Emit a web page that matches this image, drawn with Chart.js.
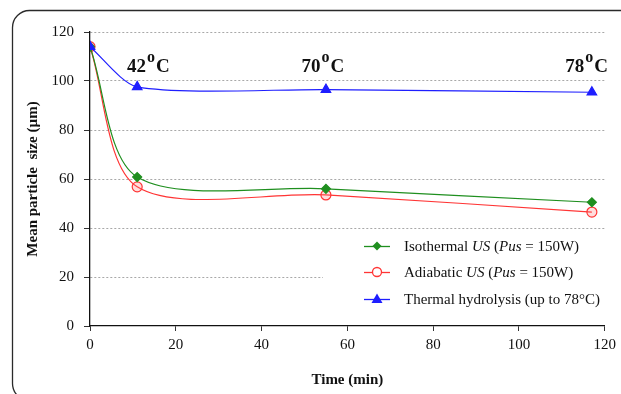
<!DOCTYPE html>
<html>
<head>
<meta charset="utf-8">
<script src="https://cdn.jsdelivr.net/npm/chart.js@4/dist/chart.umd.min.js"></script>
<style>
  html, body { margin: 0; padding: 0; background: #fff; }
  #wrap { position: relative; width: 621px; height: 394px; }
</style>
</head>
<body>
<div id="wrap"><canvas id="c" width="621" height="394"></canvas></div>
<script>
// ---- data ----
const timeMin = [0, 11, 55, 117];
const isothermal = [114, 60.8, 56, 50.5];
const adiabatic = [114, 56.8, 53.5, 46.5];
const thermal = [114, 97.6, 96.5, 95.4];
const xTicks = [0, 20, 40, 60, 80, 100, 120];
const yTicks = [0, 20, 40, 60, 80, 100, 120];
const tempLabels = ['42', '70', '78'];
const tempLabelX = [13.6, 54.3, 115.8];
const tempLabelY = 103.8;
const legendLabels = [
  [['Isothermal ', false], ['US', true], [' (', false], ['Pus', true], [' = 150W)', false]],
  [['Adiabatic ', false], ['US', true], [' (', false], ['Pus', true], [' = 150W)', false]],
  [['Thermal hydrolysis (up to 78°C)', false]]
];

const SERIF = '"Liberation Serif", "Times New Roman", serif';
const toXY = (ys) => timeMin.map((x, i) => ({ x: x, y: ys[i] }));

const colGreen = '#1f8f1f', colRed = '#ff3535', colBlue = '#1e1eff';

const frame = {
  id: 'frame',
  beforeDraw(chart) {
    const ctx = chart.ctx;
    ctx.save();
    ctx.fillStyle = '#fff';
    ctx.fillRect(0, 0, chart.width, chart.height);
    ctx.strokeStyle = '#2a2a2a';
    ctx.lineWidth = 1.3;
    const x = 12.5, y = 10.5, w = 640, h = 390, r = 17;
    ctx.beginPath();
    ctx.moveTo(x + r, y);
    ctx.lineTo(x + w, y);
    ctx.moveTo(x + r, y);
    ctx.arcTo(x, y, x, y + r, r);
    ctx.lineTo(x, y + h - r);
    ctx.arcTo(x, y + h, x + r, y + h, r);
    ctx.stroke();
    ctx.restore();
  }
};

const legendBg = {
  id: 'legendBg',
  beforeDatasetsDraw(chart) {
    const ctx = chart.ctx;
    ctx.save();
    ctx.fillStyle = '#fff';
    ctx.fillRect(323, 233, 285, 86);
    ctx.restore();
  },
  afterDatasetsDraw(chart) {
    const ctx = chart.ctx;
    const xs = chart.scales.x, ys = chart.scales.y;
    ctx.save();
    // temperature labels
    ctx.fillStyle = '#111';
    ctx.textBaseline = 'alphabetic';
    tempLabels.forEach((t, i) => {
      const big = 'bold 19px ' + SERIF, small = 'bold 16px ' + SERIF;
      ctx.font = big; const w1 = ctx.measureText(t).width;
      const wC = ctx.measureText('C').width;
      ctx.font = small; const wo = ctx.measureText('o').width;
      const total = w1 + wo + wC + 2;
      let cx = xs.getPixelForValue(tempLabelX[i]) - total / 2;
      const by = ys.getPixelForValue(tempLabelY);
      ctx.font = big; ctx.fillText(t, cx, by); cx += w1 + 1;
      ctx.font = small; ctx.fillText('o', cx, by - 10); cx += wo + 1;
      ctx.font = big; ctx.fillText('C', cx, by);
    });
    // legend
    const rows = [246, 272, 299];
    const ds = chart.data.datasets;
    const order = [1, 2, 0];
    rows.forEach((ry, r) => {
      const d = ds[order[r]];
      ctx.strokeStyle = d.borderColor; ctx.lineWidth = 1.3;
      ctx.beginPath(); ctx.moveTo(364, ry + 0.5); ctx.lineTo(390, ry + 0.5); ctx.stroke();
      const mx = 377;
      ctx.fillStyle = d.pointBackgroundColor; ctx.strokeStyle = d.borderColor;
      if (d.pointStyle === 'rectRot') {
        ctx.beginPath(); ctx.moveTo(mx, ry - 4.5); ctx.lineTo(mx + 4.5, ry); ctx.lineTo(mx, ry + 4.5); ctx.lineTo(mx - 4.5, ry); ctx.closePath(); ctx.fill();
      } else if (d.pointStyle === 'circle') {
        ctx.fillStyle = '#fff';
        ctx.beginPath(); ctx.arc(mx, ry, 4.5, 0, Math.PI * 2); ctx.fill(); ctx.stroke();
      } else {
        ctx.beginPath(); ctx.moveTo(mx, ry - 5.5); ctx.lineTo(mx + 5.5, ry + 4); ctx.lineTo(mx - 5.5, ry + 4); ctx.closePath(); ctx.fill();
      }
      ctx.fillStyle = '#111';
      ctx.textBaseline = 'middle';
      let tx = 404;
      legendLabels[r].forEach(([s, it]) => {
        ctx.font = (it ? 'italic ' : '') + '15px ' + SERIF;
        ctx.fillText(s, tx, ry + 1);
        tx += ctx.measureText(s).width;
      });
    });
    ctx.restore();
  }
};

new Chart(document.getElementById('c'), {
  type: 'line',
  data: {
    datasets: [
      {
        label: 'Thermal hydrolysis (up to 78°C)', data: toXY(thermal),
        borderColor: colBlue, backgroundColor: colBlue, pointBackgroundColor: colBlue,
        pointBorderColor: colBlue, pointStyle: 'triangle', pointRadius: 5.5, borderWidth: 1.2,
        tension: 0.25, order: 0
      },
      {
        label: 'Isothermal US (Pus = 150W)', data: toXY(isothermal),
        borderColor: colGreen, backgroundColor: colGreen, pointBackgroundColor: colGreen,
        pointBorderColor: colGreen, pointStyle: 'rectRot', pointRadius: 4.5, borderWidth: 1.2,
        tension: 0.3, order: 1
      },
      {
        label: 'Adiabatic US (Pus = 150W)', data: toXY(adiabatic),
        borderColor: colRed, backgroundColor: 'rgba(255,255,255,0)', pointBackgroundColor: 'rgba(255,120,120,0.25)',
        pointBorderColor: colRed, pointStyle: 'circle', pointRadius: 5, pointBorderWidth: 1.2, borderWidth: 1.2,
        tension: 0.3, order: 2
      }
    ]
  },
  options: {
    responsive: false,
    animation: false,
    layout: { padding: { left: 0, right: 13, top: 32, bottom: 0 } },
    plugins: { legend: { display: false }, tooltip: { enabled: false } },
    elements: { line: { fill: false } },
    scales: {
      x: {
        type: 'linear', min: 0, max: 120,
        afterFit(s) { s.height = 68; },
        afterBuildTicks(s) { s.ticks = xTicks.map(v => ({ value: v })); },
        grid: { drawOnChartArea: false, tickLength: 5, tickColor: '#333', tickWidth: 1 },
        border: { color: '#111', width: 1.3 },
        ticks: { padding: 5, color: '#111', font: { family: SERIF, size: 15 }, maxRotation: 0 },
        title: { display: true, text: 'Time (min)', color: '#111', font: { family: SERIF, size: 15, weight: 'bold' }, padding: { top: 0, bottom: 5 } }
      },
      y: {
        min: 0, max: 120,
        afterFit(s) { s.width = 90; },
        afterBuildTicks(s) { s.ticks = yTicks.map(v => ({ value: v })); },
        grid: {
          color: (c) => (c.tick && c.tick.value === 0) ? 'rgba(0,0,0,0)' : '#a8a8a8',
          lineWidth: 1, tickLength: 6, tickColor: '#333', tickBorderDash: [], tickWidth: 1
        },
        border: { color: '#111', width: 1.3, dash: [2, 2] },
        ticks: { padding: 10, color: '#111', font: { family: SERIF, size: 15 } },
        title: { display: true, text: 'Mean particle  size (µm)', color: '#111', font: { family: SERIF, size: 15, weight: 'bold' }, padding: { top: 24, bottom: 0 } }
      }
    }
  },
  plugins: [frame, legendBg]
});
</script>
</body>
</html>
